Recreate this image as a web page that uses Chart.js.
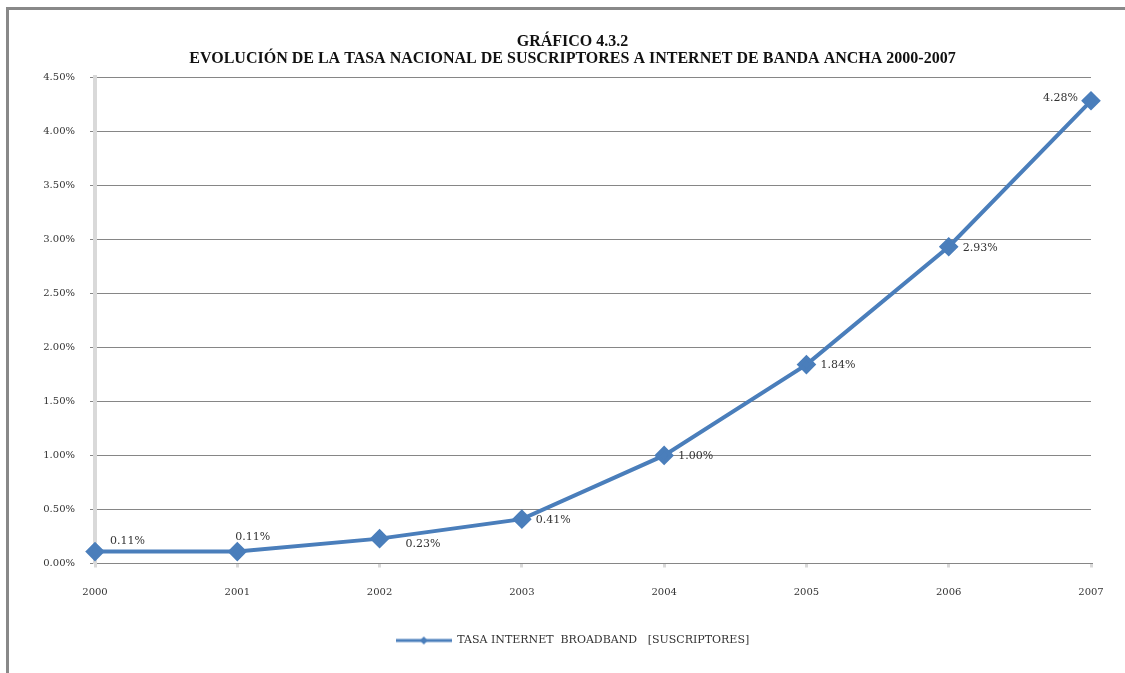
<!DOCTYPE html>
<html>
<head>
<meta charset="utf-8">
<script src="https://cdn.jsdelivr.net/npm/chart.js@4.4.1/dist/chart.umd.min.js"></script>
<style>
  html, body { margin: 0; padding: 0; background: #ffffff; }
  #wrap { position: relative; width: 1125px; height: 673px; }
  #frame { position: absolute; left: 6px; top: 7px; right: 0; bottom: 0;
           border-top: 3px solid #898989; border-left: 3px solid #898989; }
  canvas { position: absolute; left: 0; top: 0; }
</style>
</head>
<body>
<div id="wrap">
  <div id="frame"></div>
  <canvas id="chart" width="1125" height="673"></canvas>
</div>
<script>
// Años del eje de categorías
const years = ['2000', '2001', '2002', '2003', '2004', '2005', '2006', '2007'];
// Tasa nacional de suscriptores de banda ancha (%)
const tasaBroadband = [0.11, 0.11, 0.23, 0.41, 1.00, 1.84, 2.93, 4.28];
// Marcas del eje de valores (%)
const yTicks = [0, 0.5, 1, 1.5, 2, 2.5, 3, 3.5, 4, 4.5];

const titleLines = [
  'GRÁFICO 4.3.2',
  'EVOLUCIÓN DE LA TASA NACIONAL DE SUSCRIPTORES A INTERNET DE BANDA ANCHA 2000-2007'
];
const seriesName = 'TASA INTERNET  BROADBAND   [SUSCRIPTORES]';

const blue = '#4a7ebb';
const serif = "'Liberation Serif', 'Times New Roman', serif";
const smallSerif = "'DejaVu Serif', serif";

// Muestra de leyenda: línea con marcador de rombo al centro
function legendSwatch() {
  const c = document.createElement('canvas');
  c.width = 56; c.height = 10;
  const g = c.getContext('2d');
  g.strokeStyle = blue; g.lineWidth = 3;
  g.beginPath(); g.moveTo(0, 5); g.lineTo(56, 5); g.stroke();
  g.fillStyle = blue;
  g.beginPath(); g.moveTo(28, 1); g.lineTo(32, 5); g.lineTo(28, 9); g.lineTo(24, 5); g.closePath(); g.fill();
  return c;
}

// Etiquetas de valor junto a cada punto
const valueLabels = {
  id: 'valueLabels',
  afterDatasetsDraw(chart, args, opts) {
    const ctx = chart.ctx;
    const meta = chart.getDatasetMeta(0);
    ctx.save();
    ctx.font = opts.font;
    ctx.fillStyle = opts.color;
    ctx.textBaseline = 'middle';
    meta.data.forEach((pt, i) => {
      const v = chart.data.datasets[0].data[i];
      const text = v.toFixed(2) + '%';
      const a = opts.anchors[i] || opts.anchors.default;
      ctx.textAlign = a.align;
      ctx.fillText(text, pt.x + a.dx, pt.y + a.dy);
    });
    ctx.restore();
  }
};

// Centra título y leyenda sobre el marco completo y no sólo sobre el área de datos
const centerBlocks = {
  id: 'centerBlocks',
  afterLayout(chart, args, opts) {
    [chart.titleBlock, chart.legend].forEach(b => {
      if (b) { b.left += opts.shift; b.right += opts.shift; }
    });
  }
};

new Chart(document.getElementById('chart'), {
  type: 'line',
  data: {
    labels: years,
    datasets: [{
      label: seriesName,
      data: tasaBroadband,
      borderColor: blue,
      backgroundColor: blue,
      borderWidth: 4,
      pointStyle: 'rectRot',
      pointRadius: 7,
      pointHoverRadius: 7,
      pointBackgroundColor: blue,
      pointBorderColor: blue,
      tension: 0
    }]
  },
  plugins: [valueLabels, centerBlocks],
  options: {
    responsive: false,
    animation: false,
    events: [],
    layout: { padding: { left: 10, right: 34, top: 31, bottom: 17 } },
    plugins: {
      title: {
        display: true,
        text: titleLines,
        color: '#111111',
        font: { family: serif, size: 16, weight: 'bold', lineHeight: 1.0625 },
        padding: { top: 2, bottom: 10 }
      },
      legend: {
        display: true,
        position: 'bottom',
        labels: {
          usePointStyle: true,
          pointStyleWidth: 56,
          color: '#333333',
          font: { family: smallSerif, size: 11 },
          padding: 10,
          generateLabels(chart) {
            const ds = chart.data.datasets[0];
            return [{ text: ds.label, pointStyle: legendSwatch(), fontColor: '#333333',
                      lineWidth: 0, strokeStyle: 'transparent', fillStyle: blue, datasetIndex: 0 }];
          }
        }
      },
      tooltip: { enabled: false },
      centerBlocks: { shift: 22 },
      valueLabels: {
        font: '11px ' + smallSerif,
        color: '#333333',
        anchors: {
          default: { dx: 14, dy: 1, align: 'left' },
          0: { dx: 15, dy: -10, align: 'left' },
          1: { dx: -2, dy: -14, align: 'left' },
          2: { dx: 26, dy: 6, align: 'left' },
          7: { dx: -13, dy: -3, align: 'right' }
        }
      }
    },
    scales: {
      x: {
        type: 'category',
        offset: false,
        border: { display: true, color: '#868686', width: 1 },
        grid: { drawOnChartArea: false, drawTicks: true, tickLength: 4, color: '#d9d9d9', lineWidth: 3 },
        ticks: { color: '#333333', font: { family: smallSerif, size: 10 }, padding: 19, maxRotation: 0, autoSkip: false },
        afterFit(scale) { scale.height = 61.5; }
      },
      y: {
        min: 0,
        max: 4.5,
        afterBuildTicks(scale) { scale.ticks = yTicks.map(v => ({ value: v })); },
        border: { display: true, color: '#d9d9d9', width: 4 },
        grid: { color: '#868686', lineWidth: 1, drawTicks: true, tickLength: 5 },
        ticks: {
          color: '#333333',
          font: { family: smallSerif, size: 10 },
          padding: 15,
          callback: v => v.toFixed(2) + '%'
        },
        afterFit(scale) { scale.width = 85; }
      }
    }
  }
});
</script>
</body>
</html>
